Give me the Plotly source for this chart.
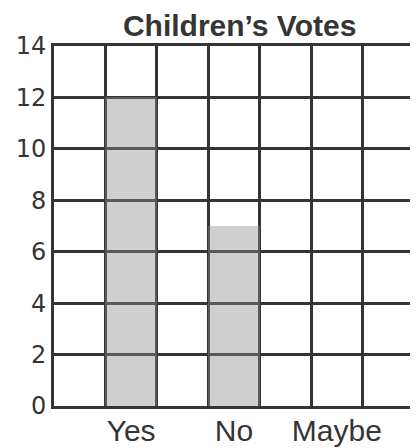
import plotly.graph_objects as go

categories = ["Yes", "No", "Maybe"]
votes = [12, 7, 0]
cat_positions = [1.5, 3.5, 5.5]
y_ticks = [0, 2, 4, 6, 8, 10, 12, 14]

ink = "#353535"

fig = go.Figure()
fig.add_trace(go.Bar(
    x=cat_positions, y=votes, width=1.0,
    marker=dict(color="rgba(140,140,140,0.42)", line=dict(width=0)),
    hoverinfo="skip", showlegend=False,
))

# page body has an 8px margin, so the figure is sized/offset to compensate
fig.update_layout(
    width=410, height=440,
    margin=dict(l=46, r=4, t=38, b=42, autoexpand=False),
    paper_bgcolor="white", plot_bgcolor="white",
    title=dict(text="<b>Children’s Votes</b>", x=0.565, xanchor="center",
               y=0.961, yanchor="middle", automargin=False,
               font=dict(family="Liberation Sans, Arial", size=30, color=ink)),
    bargap=0,
)
fig.update_xaxes(
    range=[0, 7], tickvals=cat_positions, ticktext=categories,
    showgrid=False, zeroline=False, ticks="", automargin=False,
    showline=True, linecolor=ink, linewidth=3, mirror=True,
    tickfont=dict(family="Liberation Sans, Arial", size=30, color=ink),
    ticklabelstandoff=-4,
    minor=dict(tick0=0, dtick=1, showgrid=True, gridcolor=ink, gridwidth=2.5),
)
fig.update_yaxes(
    range=[0, 14], tickvals=y_ticks,
    showgrid=True, gridcolor=ink, gridwidth=2.5, zeroline=False, ticks="",
    showline=True, linecolor=ink, linewidth=3, mirror=True, automargin=False,
    tickfont=dict(family="DejaVu Sans, Liberation Sans", size=24, color=ink),
    ticklabelstandoff=0,
)
fig.write_html("out.html")
